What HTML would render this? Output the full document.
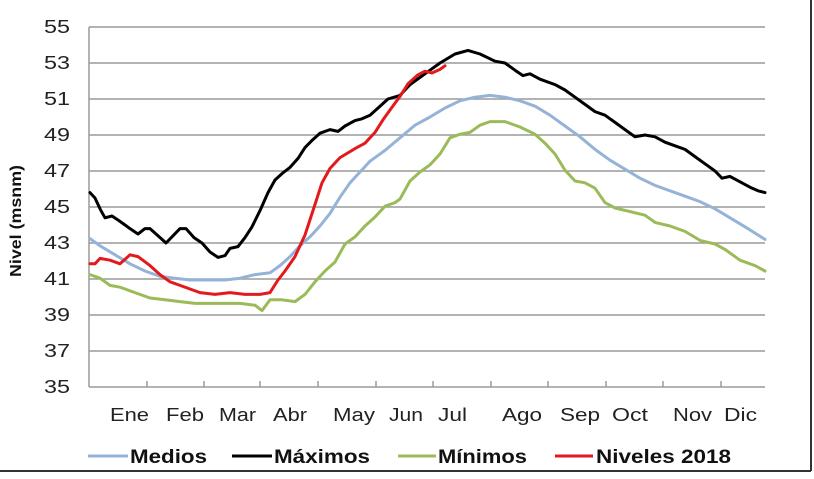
<!DOCTYPE html>
<html><head><meta charset="utf-8"><style>
html,body{margin:0;padding:0;background:#fff;}
svg{display:block;font-family:"Liberation Sans",Arial,sans-serif;}
</style></head><body>
<svg width="814" height="479" viewBox="0 0 814 479" xmlns="http://www.w3.org/2000/svg">
<rect x="0" y="0" width="814" height="479" fill="#fff"/>
<line x1="0" y1="471" x2="811" y2="471" stroke="#333" stroke-width="2"/>
<line x1="811" y1="0" x2="811" y2="471" stroke="#333" stroke-width="2"/>
<g stroke="#9a9a9a" stroke-width="1.5">
<line x1="89" y1="27" x2="765" y2="27"/><line x1="89" y1="63" x2="765" y2="63"/>
<line x1="89" y1="99" x2="765" y2="99"/><line x1="89" y1="135" x2="765" y2="135"/>
<line x1="89" y1="171" x2="765" y2="171"/><line x1="89" y1="207" x2="765" y2="207"/>
<line x1="89" y1="243" x2="765" y2="243"/><line x1="89" y1="279" x2="765" y2="279"/>
<line x1="89" y1="315" x2="765" y2="315"/><line x1="89" y1="351" x2="765" y2="351"/>
<line x1="89" y1="387" x2="765" y2="387"/>
<line x1="89" y1="27" x2="89" y2="387"/>
<line x1="147" y1="381" x2="147" y2="387"/><line x1="204" y1="381" x2="204" y2="387"/>
<line x1="260" y1="381" x2="260" y2="387"/><line x1="318" y1="381" x2="318" y2="387"/>
<line x1="376" y1="381" x2="376" y2="387"/><line x1="433" y1="381" x2="433" y2="387"/>
<line x1="491" y1="381" x2="491" y2="387"/><line x1="548" y1="381" x2="548" y2="387"/>
<line x1="606" y1="381" x2="606" y2="387"/><line x1="663" y1="381" x2="663" y2="387"/>
<line x1="721" y1="381" x2="721" y2="387"/>
</g>
<g font-size="18" fill="#222" lengthAdjust="spacingAndGlyphs">
<text x="44" y="33" textLength="26" lengthAdjust="spacingAndGlyphs">55</text>
<text x="44" y="69" textLength="26" lengthAdjust="spacingAndGlyphs">53</text>
<text x="44" y="105" textLength="26" lengthAdjust="spacingAndGlyphs">51</text>
<text x="44" y="141" textLength="26" lengthAdjust="spacingAndGlyphs">49</text>
<text x="44" y="177" textLength="26" lengthAdjust="spacingAndGlyphs">47</text>
<text x="44" y="213" textLength="26" lengthAdjust="spacingAndGlyphs">45</text>
<text x="44" y="249" textLength="26" lengthAdjust="spacingAndGlyphs">43</text>
<text x="44" y="285" textLength="26" lengthAdjust="spacingAndGlyphs">41</text>
<text x="44" y="321" textLength="26" lengthAdjust="spacingAndGlyphs">39</text>
<text x="44" y="357" textLength="26" lengthAdjust="spacingAndGlyphs">37</text>
<text x="44" y="393" textLength="26" lengthAdjust="spacingAndGlyphs">35</text>
</g>
<text transform="translate(21,221) rotate(-90)" font-size="16" font-weight="bold" text-anchor="middle" fill="#111" textLength="112" lengthAdjust="spacingAndGlyphs">Nivel (msnm)</text>
<g font-size="18" fill="#222">
<text x="110" y="421" textLength="39" lengthAdjust="spacingAndGlyphs">Ene</text>
<text x="166" y="421" textLength="38" lengthAdjust="spacingAndGlyphs">Feb</text>
<text x="219" y="421" textLength="37" lengthAdjust="spacingAndGlyphs">Mar</text>
<text x="273" y="421" textLength="34" lengthAdjust="spacingAndGlyphs">Abr</text>
<text x="333" y="421" textLength="42" lengthAdjust="spacingAndGlyphs">May</text>
<text x="389" y="421" textLength="34" lengthAdjust="spacingAndGlyphs">Jun</text>
<text x="438" y="421" textLength="29" lengthAdjust="spacingAndGlyphs">Jul</text>
<text x="502" y="421" textLength="40" lengthAdjust="spacingAndGlyphs">Ago</text>
<text x="560" y="421" textLength="40" lengthAdjust="spacingAndGlyphs">Sep</text>
<text x="612" y="421" textLength="36" lengthAdjust="spacingAndGlyphs">Oct</text>
<text x="673" y="421" textLength="39" lengthAdjust="spacingAndGlyphs">Nov</text>
<text x="724" y="421" textLength="33" lengthAdjust="spacingAndGlyphs">Dic</text>
</g>
<g fill="none" stroke-width="3" stroke-linejoin="round" stroke-linecap="round">
<polyline stroke="#95b3d7" points="90,238.6 100,245.8 115,254.8 130,263.8 145,271 160,276.4 175,278.2 190,280 210,280 225,280 240,278.2 255,274.6 270,272.8 280,265.6 290,256.6 300,245.8 310,236.8 320,226 330,213.4 340,197.2 350,182.8 360,172 370,161.2 385,150.4 400,137.8 415,125.2 430,117 445,108 460,100.8 475,97.2 490,95.4 505,97.2 520,100.8 535,106.2 550,115.2 565,126 580,136.8 595,149.4 610,160.2 625,169.2 640,178.2 655,185.4 670,190.8 685,196.2 700,201.6 715,208.8 730,217.8 745,226.8 765,239.4"/>
<polyline stroke="#9bbb59" points="90,274.6 100,278.2 110,285.4 120,287.2 135,292.6 150,298 165,299.8 180,301.6 195,303.4 210,303.4 225,303.4 240,303.4 255,305.2 262,310.6 270,299.8 282,299.8 295,301.6 305,294.4 315,281.8 325,271 335,262 345,244 355,236.8 365,226 375,217 385,206.2 395,202.6 400,199 410,181 420,172 430,164.8 440,154 450,137.8 460,134.2 470,132.4 480,125.2 490,121.6 505,121.6 520,127 535,134.2 545,143.2 555,154 565,170.2 575,181 585,182.8 595,188.2 605,202.6 615,208 630,211.6 645,215.2 655,222.4 670,226 685,231.4 700,240.4 715,244 725,249.4 740,260.2 755,265.6 765,271"/>
<polyline stroke="#000" points="90,192.6 95,198 100,208.8 105,217.8 112,216 120,221.4 130,228.6 138,234 145,228.6 150,228.6 158,235.8 166,243 173,235.8 180,228.6 186,228.6 194,237.6 202,243 210,252 218,257.4 225,255.6 230,248.4 238,246.6 245,237.6 252,226.8 260,210.6 268,192.6 275,180 283,172.8 290,167.4 298,158.4 305,147.6 312,140.4 320,133.2 330,129.6 338,131.4 345,126 355,120.6 362,118.8 370,115.2 380,106.2 388,99 400,95.4 410,84.6 420,77.4 430,70.2 440,63 455,54 468,50.4 480,54 495,61.2 505,63 515,70.2 523,75.6 530,73.8 540,79.2 555,84.6 565,90 575,97.2 585,104.4 595,111.6 605,115.2 615,122.4 625,129.6 635,136.8 645,135 655,136.8 665,142.2 675,145.8 685,149.4 695,156.6 705,163.8 715,171 722,178.2 730,176.4 740,181.8 750,187.2 758,190.8 765,192.6"/>
<polyline stroke="#e31a1c" points="90,263.8 95,263.8 100,258.4 110,260.2 120,263.8 130,254.8 138,256.6 150,265.6 160,274.6 170,281.8 180,285.4 190,289 200,292.6 215,294.4 230,292.6 245,294.4 260,294.4 270,292.6 278,280 285,271 295,256.6 305,235 315,204.4 322,182.8 330,168.4 340,157.6 355,148.6 365,143.2 375,132.4 383,119.8 392,107.2 400,96.4 408,83.8 418,74.8 425,71.2 432,73 440,69.4 445,65.8"/>
</g>
<g stroke-width="3">
<line x1="88" y1="456" x2="128" y2="456" stroke="#95b3d7"/>
<line x1="232" y1="456" x2="272" y2="456" stroke="#000"/>
<line x1="398" y1="456" x2="436" y2="456" stroke="#9bbb59"/>
<line x1="555" y1="456" x2="593" y2="456" stroke="#e31a1c"/>
</g>
<g font-size="19" font-weight="bold" fill="#111">
<text x="130" y="463" textLength="77" lengthAdjust="spacingAndGlyphs">Medios</text>
<text x="274" y="463" textLength="96" lengthAdjust="spacingAndGlyphs">Máximos</text>
<text x="438" y="463" textLength="89" lengthAdjust="spacingAndGlyphs">Mínimos</text>
<text x="596" y="463" textLength="135" lengthAdjust="spacingAndGlyphs">Niveles 2018</text>
</g>
</svg>
</body></html>
